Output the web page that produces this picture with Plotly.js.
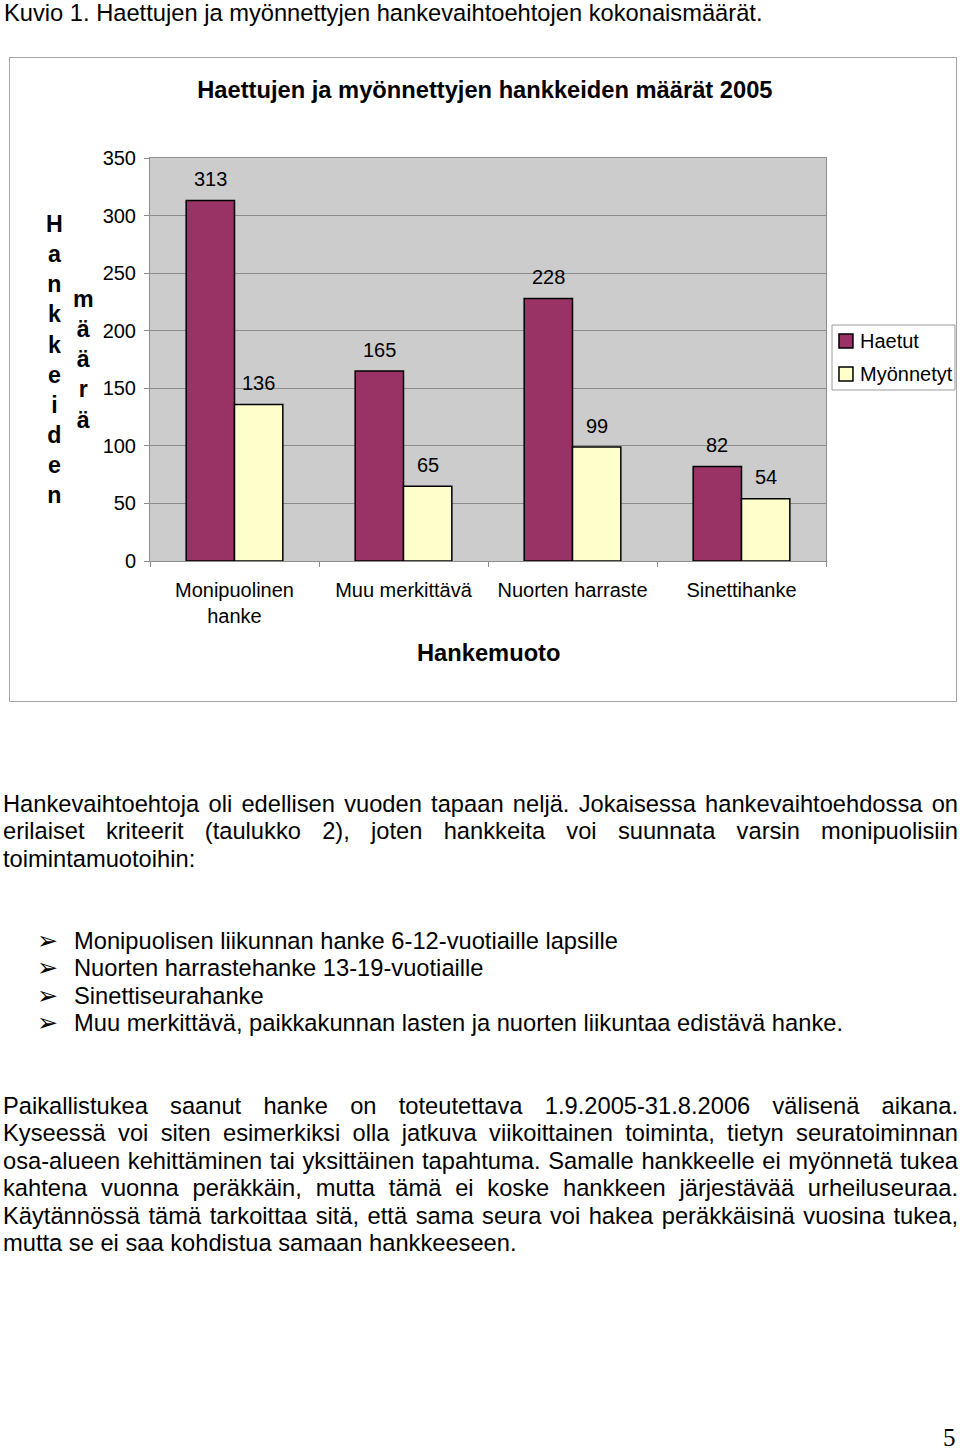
<!DOCTYPE html>
<html><head><meta charset="utf-8">
<script src="https://cdn.plot.ly/plotly-3.0.1.min.js"></script>
<style>
body{margin:0;background:#fff;width:960px;height:1451px;position:relative;overflow:hidden;font-family:"Liberation Sans",Arial,sans-serif;color:#000;}
.t{position:absolute;font-size:23.7px;line-height:27.4px;white-space:nowrap}
.j{position:absolute;left:3px;width:955px;font-size:23.7px;line-height:27.4px}
.j div{text-align:justify;text-align-last:justify}
.j div.l{text-align:left;text-align-last:left}
.bl{position:absolute;font-size:23.7px;line-height:27.4px;white-space:nowrap}
.bu{position:absolute;font-family:"DejaVu Sans",sans-serif;font-size:25px;line-height:27.4px}
#box{position:absolute;left:9px;top:57px;width:946px;height:643px;border:1px solid #a6a6a6}
#chart{width:946px;height:643px}
</style></head><body>
<div class="t" style="left:4px;top:0px">Kuvio 1. Haettujen ja myönnettyjen hankevaihtoehtojen kokonaismäärät.</div>
<div id="box"><div id="chart"></div></div>

<div class="j" style="top:791px">
<div>Hankevaihtoehtoja oli edellisen vuoden tapaan neljä. Jokaisessa hankevaihtoehdossa on</div>
<div>erilaiset kriteerit (taulukko 2), joten hankkeita voi suunnata varsin monipuolisiin</div>
<div class="l">toimintamuotoihin:</div>
</div>

<div class="bu" style="left:37px;top:927px">➢</div><div class="bl" style="left:74px;top:928px">Monipuolisen liikunnan hanke 6-12-vuotiaille lapsille</div>
<div class="bu" style="left:37px;top:954.4px">➢</div><div class="bl" style="left:74px;top:955.4px">Nuorten harrastehanke 13-19-vuotiaille</div>
<div class="bu" style="left:37px;top:981.8px">➢</div><div class="bl" style="left:74px;top:982.8px">Sinettiseurahanke</div>
<div class="bu" style="left:37px;top:1009.2px">➢</div><div class="bl" style="left:74px;top:1010.2px">Muu merkittävä, paikkakunnan lasten ja nuorten liikuntaa edistävä hanke.</div>

<div class="j" style="top:1093px">
<div>Paikallistukea saanut hanke on toteutettava 1.9.2005-31.8.2006 välisenä aikana.</div>
<div>Kyseessä voi siten esimerkiksi olla jatkuva viikoittainen toiminta, tietyn seuratoiminnan</div>
<div>osa-alueen kehittäminen tai yksittäinen tapahtuma. Samalle hankkeelle ei myönnetä tukea</div>
<div>kahtena vuonna peräkkäin, mutta tämä ei koske hankkeen järjestävää urheiluseuraa.</div>
<div>Käytännössä tämä tarkoittaa sitä, että sama seura voi hakea peräkkäisinä vuosina tukea,</div>
<div class="l">mutta se ei saa kohdistua samaan hankkeeseen.</div>
</div>

<div style="position:absolute;left:943px;top:1424px;font-family:'Liberation Serif',serif;font-size:25px;line-height:27px">5</div>

<script>
const categories = ['Monipuolinen<br>hanke', 'Muu merkittävä', 'Nuorten harraste', 'Sinettihanke'];
const haetut = [313, 165, 228, 82];
const myonnetyt = [136, 65, 99, 54];
const seriesNames = ['Haetut', 'Myönnetyt'];
const seriesColors = ['#993366', '#FFFFCC'];
const chartTitle = 'Haettujen ja myönnettyjen hankkeiden määrät 2005';
const xTitle = 'Hankemuoto';
const yTitleWords = ['Hankkeiden', 'määrä'];

const FONT = '"Liberation Sans", Arial, sans-serif';
const series = [haetut, myonnetyt];

const traces = series.map((vals, i) => ({
  type: 'bar',
  name: seriesNames[i],
  x: categories,
  y: vals,
  marker: {color: seriesColors[i], line: {color: '#000', width: 1.5}},
  hoverinfo: 'skip'
}));

const annotations = [];
const shapes = [];
// value labels
series.forEach((vals, si) => {
  vals.forEach((v, ci) => {
    annotations.push({
      x: categories[ci], y: v, xref: 'x', yref: 'y',
      text: String(v), showarrow: false,
      xshift: si === 0 ? -24.2 : 24.2, yshift: 21.5,
      yanchor: 'middle', xanchor: 'center',
      font: {family: FONT, size: 20, color: '#000'}
    });
  });
});
// stacked vertical y-axis title
const yShifts = [-95.5, -66.5];
yTitleWords.forEach((w, i) => {
  annotations.push({
    x: 0, y: 0.5, xref: 'paper', yref: 'paper',
    text: '<b>' + w.split('').join('<br>') + '</b>',
    showarrow: false, xanchor: 'center', yanchor: 'middle',
    xshift: yShifts[i], align: 'center',
    font: {family: FONT, size: 23.2, color: '#000'}
  });
});
// x-axis title
annotations.push({
  x: 0.5, y: 0, xref: 'paper', yref: 'paper',
  text: '<b>' + xTitle + '</b>', showarrow: false,
  xanchor: 'center', yanchor: 'middle', yshift: -92,
  font: {family: FONT, size: 23.7, color: '#000'}
});

// legend (box, swatches, labels)
shapes.push({type: 'rect', xref: 'paper', yref: 'paper',
  x0: 1.0089, x1: 1.1908, y0: 0.4243, y1: 0.5856,
  line: {color: '#9a9a9a', width: 1}, fillcolor: '#fff', layer: 'above'});
const legendRows = [{y0: 0.5285, y1: 0.5633, ty: 0.5459}, {y0: 0.4467, y1: 0.4814, ty: 0.4640}];
seriesNames.forEach((nm, i) => {
  shapes.push({type: 'rect', xref: 'paper', yref: 'paper',
    x0: 1.0192, x1: 1.0399, y0: legendRows[i].y0, y1: legendRows[i].y1,
    line: {color: '#000', width: 1.5}, fillcolor: seriesColors[i], layer: 'above'});
  annotations.push({x: 1.0473, y: legendRows[i].ty, xref: 'paper', yref: 'paper',
    text: nm, showarrow: false, xanchor: 'left', yanchor: 'middle',
    font: {family: FONT, size: 20, color: '#000'}});
});

const layout = {
  width: 946, height: 643,
  margin: {l: 140, r: 130, t: 100, b: 140, pad: 0, autoexpand: false},
  paper_bgcolor: '#fff',
  plot_bgcolor: '#CCCCCC',
  barmode: 'group',
  bargap: 0.428,
  bargroupgap: 0,
  showlegend: false,
  title: {
    text: '<b>' + chartTitle + '</b>',
    x: 0.502, xref: 'container', xanchor: 'center',
    y: 0.9502, yref: 'container', yanchor: 'middle',
    font: {family: FONT, size: 23.7, color: '#000'}
  },
  xaxis: {
    type: 'category',
    showgrid: false,
    ticks: 'outside', tickson: 'boundaries', ticklen: 5, tickcolor: '#8c8c8c',
    showline: true, linecolor: '#8c8c8c', linewidth: 1, mirror: true,
    tickfont: {family: FONT, size: 20, color: '#000'},
    ticklabelstandoff: 11,
    fixedrange: true
  },
  yaxis: {
    range: [0, 350], dtick: 50, tick0: 0,
    showgrid: true, gridcolor: '#8c8c8c', gridwidth: 1,
    zeroline: false,
    ticks: 'outside', ticklen: 5, tickcolor: '#8c8c8c',
    showline: true, linecolor: '#8c8c8c', linewidth: 1, mirror: true,
    tickfont: {family: FONT, size: 20, color: '#000'},
    ticklabelstandoff: 4,
    fixedrange: true
  },
  shapes: shapes,
  annotations: annotations
};

Plotly.newPlot('chart', traces, layout, {staticPlot: true, displayModeBar: false});
</script>
</body></html>
